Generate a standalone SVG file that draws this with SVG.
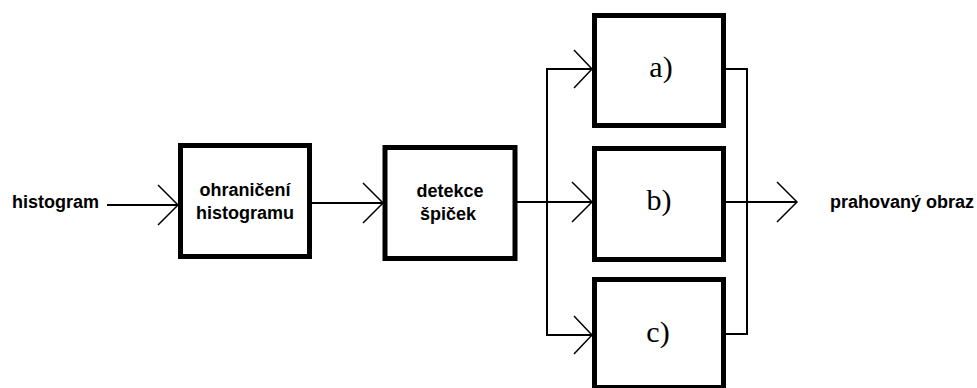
<svg xmlns="http://www.w3.org/2000/svg" width="977" height="388" viewBox="0 0 977 388">
<style>
.box{fill:#fff;stroke:#000;stroke-width:5}
.ln{fill:none;stroke:#000;stroke-width:2}
.ah{fill:none;stroke:#000;stroke-width:1.5}
.lbl{font-family:"Liberation Sans",Arial,sans-serif;font-weight:bold;font-size:18px;fill:#000}
.ser{font-family:"Liberation Serif","Times New Roman",serif;font-size:30px;fill:#000;text-anchor:middle}
</style>
<rect width="977" height="388" fill="#fff"/>
<g id="connectors">
<path class="ln" d="M107 205H178"/>
<path class="ah" d="M158 185L178 205L158 225"/>
<path class="ln" d="M312 203H383"/>
<path class="ah" d="M363 183L383 203L363 223"/>
<path class="ln" d="M517 202H592"/>
<path class="ah" d="M572 182L592 202L572 222"/>
<path class="ln" d="M592 69H547V335H592"/>
<path class="ah" d="M574 50L592 69L574 88"/>
<path class="ah" d="M574 316L592 335L574 354"/>
<path class="ln" d="M726 69H747V334H726"/>
<path class="ln" d="M726 202H797"/>
<path class="ah" d="M777 182L797 202L777 222"/>
</g>
<g id="input"><text class="lbl" x="12" y="208">histogram</text></g>
<g id="ohraniceni">
<rect class="box" x="180.5" y="145.5" width="129" height="111"/>
<text class="lbl" x="245" y="196" text-anchor="middle">ohraničení</text>
<text class="lbl" x="245" y="219" text-anchor="middle">histogramu</text>
</g>
<g id="detekce">
<rect class="box" x="385" y="147.5" width="130" height="111"/>
<text class="lbl" x="450" y="197" text-anchor="middle">detekce</text>
<text class="lbl" x="448" y="220" text-anchor="middle">špiček</text>
</g>
<g id="a">
<rect class="box" x="594.5" y="15.5" width="129" height="110"/>
<text class="ser" x="661" y="77">a)</text>
</g>
<g id="b">
<rect class="box" x="594.5" y="148.5" width="129" height="111"/>
<text class="ser" x="659" y="210">b)</text>
</g>
<g id="c">
<rect class="box" x="594.5" y="279.5" width="129" height="108"/>
<text class="ser" x="658" y="342">c)</text>
</g>
<g id="output"><text class="lbl" x="830" y="208">prahovaný obraz</text></g>
</svg>
